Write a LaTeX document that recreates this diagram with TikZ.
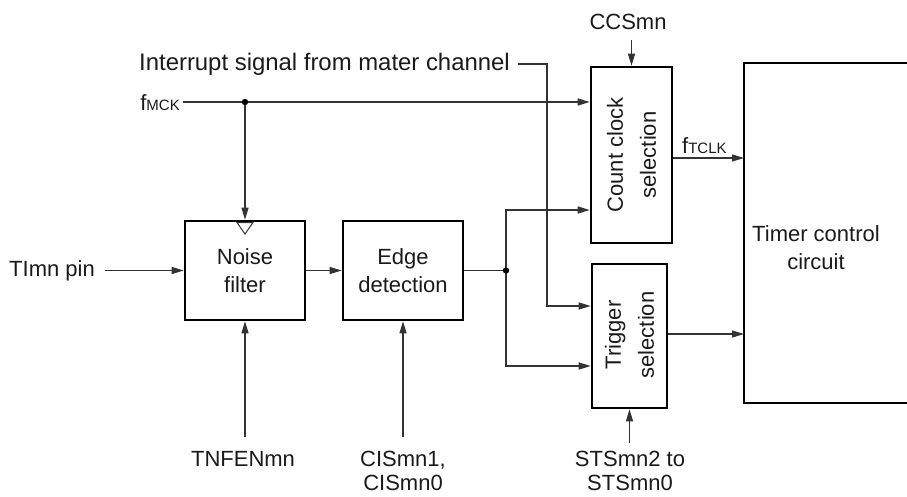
\documentclass[tikz,border=0pt]{standalone}
\usepackage{fontspec}
\setmainfont{Liberation Sans}
\usetikzlibrary{arrows.meta}
\definecolor{ln}{HTML}{333333}
\definecolor{tx}{HTML}{1A1A1A}
\begin{document}
\begin{tikzpicture}[x=1pt,y=-1pt,
  every node/.style={text=tx,font=\fontsize{22}{28}\selectfont},
  blk/.style={draw=black,line width=2.6pt,inner sep=0pt,align=center},
  rot/.style={rotate=90,inner sep=0pt,align=center,font=\fontsize{22}{33}\selectfont},
  conn/.style={draw=ln,line width=1.2pt},
  arr/.style={conn,-{Triangle[length=12pt,width=7pt]}},
  lbl/.style={inner sep=0pt,align=center},
  bot/.style={lbl,anchor=north,font=\fontsize{22}{24}\selectfont}]
\useasboundingbox (0,0) rectangle (907,497);
% blocks
\node[blk,minimum width=120pt,minimum height=99pt] (nf) at (245,270.5) {Noise\\filter};
\node[blk,minimum width=120pt,minimum height=99pt] (ed) at (403,270.5) {Edge\\detection};
\node[blk,minimum width=81pt,minimum height=176pt] (cc) at (631.5,155) {};
\node[rot] at (cc.center) {Count clock\\selection};
\node[blk,minimum width=75pt,minimum height=144pt] (ts) at (629.5,336) {};
\node[rot] at ([yshift=1pt]ts.center) {Trigger\\selection};
\coordinate (tcnw) at (744,63);
\coordinate (tcsw) at (744,403);
\draw[black,line width=2.6pt] (910,63) -- (tcnw) -- (tcsw) -- (910,403);
\node[lbl] (tc) at (816,248) {Timer control\\circuit};
% clock triangle
\draw[ln,line width=1pt] (237,222.5) -- (253,222.5) -- (245,234) -- cycle;
% labels
\node[lbl,anchor=east] (fmck) at (180,103) {f{\fontsize{15}{15}\selectfont MCK}};
\node[lbl,anchor=east] (pin) at (95,270.5) {TImn pin};
\node[lbl,anchor=east,font=\fontsize{23.9}{26}\selectfont] (intr) at (510,64) {Interrupt signal from mater channel};
\node[lbl] (ccs) at (628,22) {CCSmn};
\node[lbl,anchor=west] (ftclk) at (682,146) {f{\fontsize{15}{15}\selectfont TCLK}};
\node[bot] (tnf) at (243,451) {TNFENmn};
\node[bot] (cis) at (403,451) {CISmn1,\\CISmn0};
\node[bot] (sts) at (630,451) {STSmn2 to\\STSmn0};
% coordinates
\coordinate (d1) at (245,102);
\coordinate (d2) at (506,270.5);
\coordinate (i0) at (547,64);
\coordinate (i1) at (547,306);
\coordinate (c1) at (506,210);
\coordinate (c2) at (506,366);
\coordinate (tnfend) at (245,437);
\coordinate (cisend) at (403,437);
\coordinate (stsend) at (629.5,443);
\coordinate (ccstop) at (631.5,40);
% connectors
\draw[arr] ([xshift=3pt]fmck.east |- d1) -- (cc.west |- d1);
\draw[arr] (d1) -- (nf.north);
\fill[black] (d1) circle (3.2pt);
\draw[arr] ([xshift=10pt]pin.east) -- (nf.west);
\draw[arr] (nf.east) -- (ed.west);
\draw[conn] (ed.east) -- (d2);
\draw[arr] (d2) -- (c1) -- (cc.west |- c1);
\draw[arr] (d2) -- (c2) -- (ts.west |- c2);
\fill[black] (d2) circle (3.2pt);
\draw[arr] ([xshift=8pt]intr.east) -- (i0) -- (i1) -- (ts.west |- i1);
\draw[arr] (ccstop) -- (cc.north);
\draw[arr] (cc.east |- 0,158) -- (tcnw |- 0,158);
\draw[arr] (ts.east |- 0,334) -- (tcnw |- 0,334);
\draw[arr] (tnfend) -- (nf.south);
\draw[arr] (cisend) -- (ed.south);
\draw[arr] (stsend) -- (ts.south);
\end{tikzpicture}
\end{document}
